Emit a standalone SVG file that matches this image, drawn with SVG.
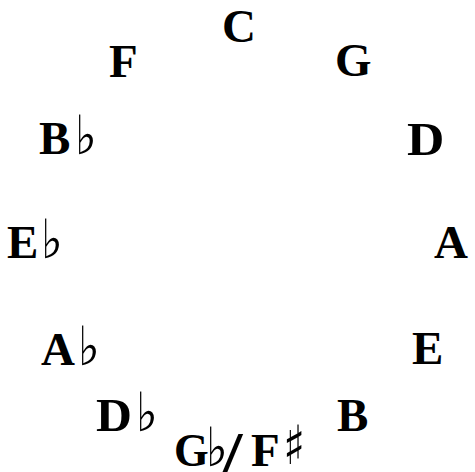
<svg xmlns="http://www.w3.org/2000/svg" width="475" height="472" viewBox="0 0 475 472">
<style>
.n{font-family:"Liberation Serif","Times New Roman",serif;font-weight:bold;font-size:47px;fill:#000}
.acc{font-family:"DejaVu Serif",serif;font-weight:normal;font-size:54px;fill:#000}
.sl{font-family:"Liberation Serif","Times New Roman",serif;font-weight:bold;font-size:56px;fill:#000}
</style>
<rect width="475" height="472" fill="#fff"/>
<g id="connectors"/>
<g id="node-C"><text class="n" x="222" y="42">C</text></g>
<g id="node-G"><text class="n" x="335" y="76">G</text></g>
<g id="node-D"><text class="n" transform="translate(407,155) scale(1.1,1)">D</text></g>
<g id="node-A"><text class="n" x="434" y="258">A</text></g>
<g id="node-E"><text class="n" x="412" y="364">E</text></g>
<g id="node-B"><text class="n" x="337" y="431">B</text></g>
<g id="node-GbFs"><text class="n" transform="translate(174,466) scale(0.95,1)">G</text><text class="acc" transform="translate(206,466) scale(0.85,1)">♭</text><text class="sl" transform="translate(223,472) scale(1.25,1)">/</text><text class="n" x="251" y="466">F</text><text class="acc" transform="translate(283,464) scale(0.85,1)">♯</text></g>
<g id="node-Db"><text class="n" transform="translate(96,431) scale(1.06,1)">D</text><text class="acc" transform="translate(136,431) scale(0.85,1)">♭</text></g>
<g id="node-Ab"><text class="n" x="41" y="365">A</text><text class="acc" transform="translate(78,365) scale(0.85,1)">♭</text></g>
<g id="node-Eb"><text class="n" x="7" y="258">E</text><text class="acc" transform="translate(41,258) scale(0.85,1)">♭</text></g>
<g id="node-Bb"><text class="n" x="39" y="154">B</text><text class="acc" transform="translate(75,154) scale(0.85,1)">♭</text></g>
<g id="node-F"><text class="n" x="109" y="77">F</text></g>
</svg>
